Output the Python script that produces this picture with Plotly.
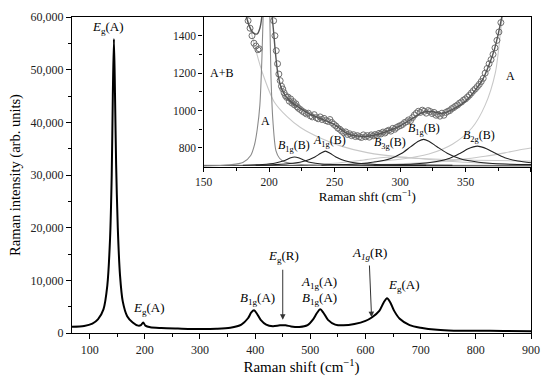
import plotly.graph_objects as go

# ---------------- main spectrum ----------------
main_x = [68, 90, 105, 115, 125, 132, 137, 140, 142, 144, 146, 148, 151, 155, 160, 168, 178, 188,
          193, 197, 201, 210, 230, 260, 300, 330, 355, 375, 387, 393, 398, 403, 410, 420, 432,
          445, 455, 465, 480, 495, 505, 512, 518, 524, 532, 545, 560, 580, 600, 612, 625, 633,
          639, 645, 652, 662, 680, 700, 730, 760, 800, 850, 900]
main_y = [1200, 1350, 1800, 2600, 4500, 9000, 18000, 30000, 45000, 55800, 45000, 32000, 20000,
          11000, 6000, 3200, 2000, 1400, 1500, 2000, 1400, 1100, 950, 850, 750, 800, 1000, 1600,
          2800, 3900, 4300, 3700, 2500, 1600, 1300, 1450, 1450, 1250, 1150, 1500, 2600, 3800,
          4500, 3800, 2500, 1600, 1450, 1700, 2300, 3000, 4200, 5800, 6600, 5800, 4200, 2700,
          1500, 1000, 600, 450, 430, 400, 350]

# ---------------- inset: measured points (open circles) ----------------
pts_x = [184, 185.5, 187, 188.5, 190, 191.5, 192.5,
         203.5, 204.5, 205.5, 206.5, 207.5, 208.5, 209.5, 210.5, 211.5, 212.5, 213.5, 214.5,
         215.5, 216.5, 217.5, 218.5, 219.5, 220.5, 221.5, 222.5, 224, 225.5, 227, 228.5, 230,
         231.5, 233, 234.5, 236, 237.5, 239, 240.5, 242, 243.5, 245, 246.5, 248, 249.5, 251,
         252.5, 254, 255.5, 257, 258.5, 260, 261.5, 263, 264.5, 266, 267.5, 269, 270.5, 272,
         273.5, 275, 276.5, 278, 279.5, 281, 282.5, 284, 285.5, 287, 288.5, 290, 291.5, 293,
         294.5, 296, 297.5, 299, 300.5, 302, 303.5, 305, 306.5, 308, 309.5, 311, 312.5, 314,
         315.5, 317, 318.5, 320, 321.5, 323, 324.5, 326, 327.5, 329, 330.5, 332, 333.5, 335,
         336.5, 338, 339.5, 341, 342.5, 344, 345.5, 347, 348.5, 350, 351.5, 353, 354.5, 356,
         357.5, 359, 360.5, 362, 363.5, 365, 366.5, 368, 369.5, 371, 372.5, 374, 375.5, 377]
pts_y = [1480, 1440, 1400, 1360, 1345, 1325, 1330,
         1480, 1400, 1320, 1250, 1195, 1160, 1130, 1115, 1095, 1080, 1070, 1072,
         1050, 1062, 1040, 1048, 1030, 1036, 1020, 1012, 1005, 996, 990, 982, 986,
         972, 966, 978, 962, 956, 966, 952, 958, 946, 942, 952, 936, 926, 918,
         906, 900, 890, 882, 886, 872, 876, 866, 871, 861, 866, 860, 856, 870,
         860, 866, 858, 870, 865, 872, 868, 878, 875, 885, 880, 890, 895, 890,
         905, 900, 910, 916, 920, 926, 936, 940, 950, 946, 962, 976, 986, 996,
         990, 1002, 996, 986, 1000, 995, 984, 990, 975, 980, 970, 986, 975, 990,
         996, 1000, 1010, 1016, 1024, 1030, 1040, 1046, 1056, 1062, 1072, 1082, 1094, 1106,
         1116, 1128, 1140, 1155, 1172, 1200, 1225, 1250, 1272, 1300, 1335, 1375, 1420, 1470]

# fitted total curve
fit_x = [182, 185, 188, 191, 193, 195, 196.5, 200, 202, 203.5, 205, 207, 210, 215, 220, 230, 240,
         250, 260, 270, 280, 290, 300, 310, 318, 325, 332, 340, 350, 357, 363, 368, 372, 375, 378]
fit_y = [1520, 1450, 1415, 1410, 1440, 1530, 1700, 1700, 1530, 1420, 1300, 1185, 1110, 1058, 1030,
         985, 955, 925, 876, 862, 868, 888, 918, 960, 992, 994, 985, 1005, 1050, 1105, 1165,
         1245, 1325, 1410, 1510]

# phase-A peak near 197
pkA_x = [150, 170, 180, 186, 189, 191, 193, 194.6, 195.8, 197.5, 199.5, 200.6, 201.4, 203,
         205.3, 208, 212, 225, 260, 400]
pkA_y = [703, 710, 722, 760, 820, 900, 1029, 1290, 1600, 2400, 1750, 1500, 1201, 940, 784,
         745, 725, 712, 705, 702]

# light tails (A+B left, A right) and broad light bands
tailL_x = [182, 185, 190, 195, 204, 214, 224, 240, 255, 275, 300, 330, 400]
tailL_y = [1520, 1455, 1320, 1201, 1046, 966, 909, 850, 810, 775, 752, 740, 730]
tailR_x = [280, 300, 322, 340, 355, 365, 372.8, 377.8, 380]
tailR_y = [728, 740, 768, 820, 908, 1029, 1203, 1481, 1560]
light3_x = [230, 250, 270, 285, 295, 305, 320, 340, 360, 380, 400]
light3_y = [710, 718, 734, 748, 752, 750, 740, 728, 720, 714, 711]
light4_x = [250, 280, 310, 330, 350, 365, 380, 390, 400]
light4_y = [708, 711, 718, 727, 742, 756, 774, 788, 800]

# dark B-phase components
b1gA_x = [180, 195, 205, 212, 216, 219.5, 223, 227, 232, 240, 255, 280, 320]
b1gA_y = [708, 712, 720, 733, 746, 752, 746, 734, 722, 714, 710, 708, 707]
a1g_x = [190, 205, 218, 228, 235, 239.5, 243, 246.5, 251, 258, 268, 282, 310, 340]
a1g_y = [708, 711, 718, 732, 752, 772, 783, 772, 752, 732, 718, 712, 709, 708]
b1gB_x = [240, 265, 282, 293, 301, 308, 314, 318, 322, 328, 336, 346, 360, 380, 400]
b1gB_y = [708, 714, 726, 744, 770, 806, 836, 846, 836, 808, 772, 742, 724, 714, 711]
b2g_x = [280, 310, 328, 338, 346, 352, 356, 359, 362, 366, 372, 380, 390, 400]
b2g_y = [708, 714, 728, 745, 772, 796, 806, 810, 806, 796, 774, 748, 730, 721]
base_x = [150, 400]
base_y = [707, 707]

inset_ticks = [150, 200, 250, 300, 350, 400]
inset_ticktext = ["150", "200", "250", "300", "350", ""]

FONT = "Liberation Serif"

fig = go.Figure()

fig.add_trace(go.Scatter(x=main_x, y=main_y, mode="lines", line=dict(color="black", width=2, shape="spline", smoothing=0.8),
                         xaxis="x", yaxis="y", showlegend=False, hoverinfo="skip"))

def inset_line(x, y, color, width=1.1):
    fig.add_trace(go.Scatter(x=x, y=y, mode="lines", line=dict(color=color, width=width, shape="spline", smoothing=0.8),
                             xaxis="x2", yaxis="y2", showlegend=False, hoverinfo="skip"))

inset_line(base_x, base_y, "#444444", 1.0)
inset_line(tailL_x, tailL_y, "#c8c8c8")
inset_line(tailR_x, tailR_y, "#c8c8c8")
inset_line(light3_x, light3_y, "#c8c8c8")
inset_line(light4_x, light4_y, "#c8c8c8")
inset_line(pkA_x, pkA_y, "#8a8a8a")
inset_line(b1gA_x, b1gA_y, "#222222")
inset_line(a1g_x, a1g_y, "#222222")
inset_line(b1gB_x, b1gB_y, "#222222")
inset_line(b2g_x, b2g_y, "#222222")

fig.add_trace(go.Scatter(x=pts_x, y=pts_y, mode="markers",
                         marker=dict(symbol="circle-open", size=6, color="#6e6e6e", line=dict(width=1)),
                         xaxis="x2", yaxis="y2", showlegend=False, hoverinfo="skip"))
inset_line(fit_x, fit_y, "#555555", 1.4)

# ---------------- annotations ----------------
ann = []
def label(text, x, y, xref="x", yref="y", size=12):
    ann.append(dict(text=text, x=x, y=y, xref=xref, yref=yref, showarrow=False,
                    font=dict(family=FONT, size=size, color="black"), xanchor="center", yanchor="middle"))

label("<i>E</i><sub>g</sub>(A)", 133, 58100, size=13)
label("<i>E</i><sub>g</sub>(A)", 208, 4700, size=13)
label("<i>B</i><sub>1g</sub>(A)", 405, 6600, size=13)
label("<i>E</i><sub>g</sub>(R)", 452, 14500, size=13)
label("<i>A</i><sub>1g</sub>(A)", 516, 9500, size=13)
label("<i>B</i><sub>1g</sub>(A)", 516, 6600, size=13)
label("<i>A</i><sub><i>1g</i></sub>(R)", 608, 15100, size=13)
label("<i>E</i><sub>g</sub>(A)", 669, 9100, size=13)

for tip, tail in [((450, 2500), (450, 12300)), ((611, 3000), (607, 13100))]:
    ann.append(dict(text="", x=tip[0], y=tip[1], ax=tail[0], ay=tail[1], xref="x", yref="y",
                    axref="x", ayref="y", showarrow=True, arrowhead=2, arrowsize=1.1,
                    arrowwidth=1, arrowcolor="#333333"))

label("A+B", 164, 1200, "x2", "y2", 12)
label("A", 384, 1186, "x2", "y2", 12)
label("A", 197, 946, "x2", "y2", 12)
label("<i>B</i><sub>1g</sub>(B)", 219, 810, "x2", "y2", 12)
label("<i>A</i><sub>1g</sub>(B)", 246, 838, "x2", "y2", 12)
label("<i>B</i><sub>3g</sub>(B)", 292, 826, "x2", "y2", 12)
label("<i>B</i><sub>1g</sub>(B)", 318, 900, "x2", "y2", 12)
label("<i>B</i><sub>2g</sub>(B)", 360, 865, "x2", "y2", 12)

axis_common = dict(showline=True, linecolor="black", linewidth=1.3, mirror=True, ticks="outside",
                   tickcolor="black", showgrid=False, zeroline=False, ticklabeloverflow="allow",
                   tickfont=dict(family=FONT, size=12, color="#222"))

fig.update_layout(
    width=550, height=384,
    margin=dict(l=72, r=14, t=10, b=51),
    paper_bgcolor="white", plot_bgcolor="white",
    font=dict(family=FONT, color="black"),
    xaxis=dict(axis_common, range=[68, 900], dtick=100, tick0=0, ticklen=5,
               minor=dict(dtick=50, ticks="outside", ticklen=3, tickcolor="black"),
               title=dict(text="Raman shift (cm<sup>−1</sup>)", font=dict(family=FONT, size=15), standoff=4)),
    yaxis=dict(axis_common, range=[0, 60000], dtick=10000, tickformat=",d", ticklen=5,
               minor=dict(dtick=5000, ticks="outside", ticklen=3, tickcolor="black"),
               title=dict(text="Raman intensity (arb. units)", font=dict(family=FONT, size=14.5), standoff=6)),
    xaxis2=dict(axis_common, domain=[0.2866, 1.0], anchor="y2", range=[150, 400],
                tickvals=inset_ticks, ticktext=inset_ticktext,
                ticklen=4, tickfont=dict(family=FONT, size=11.5, color="#222"),
                minor=dict(dtick=25, tick0=0, ticks="outside", ticklen=3, tickcolor="black"),
                title=dict(text="Raman shft (cm<sup>−1</sup>)", font=dict(family=FONT, size=13), standoff=0)),
    yaxis2=dict(axis_common, domain=[0.5263, 1.0], anchor="x2", range=[700, 1500],
                tickvals=[800, 1000, 1200, 1400], ticklen=4, tickfont=dict(family=FONT, size=11.5, color="#222"),
                minor=dict(tickvals=[900, 1100, 1300], ticks="outside", ticklen=3, tickcolor="black")),
    annotations=ann,
)

fig.write_html("out.html", config={"displayModeBar": False},
               post_script="document.body.style.margin='0px';")
